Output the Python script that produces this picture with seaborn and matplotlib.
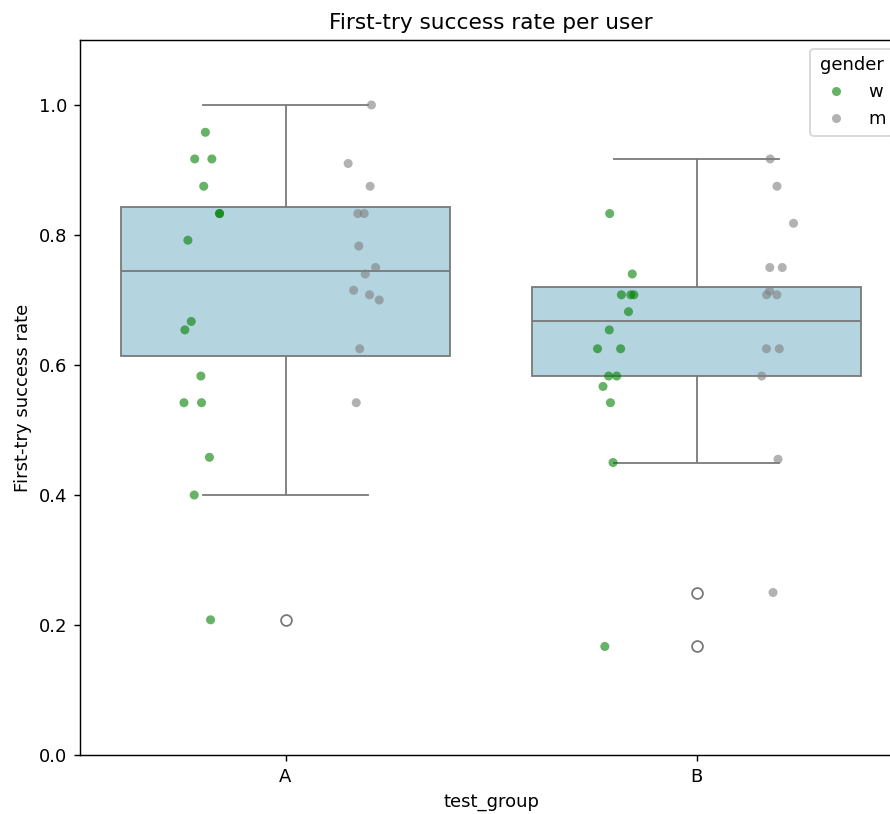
import numpy as np
import pandas as pd
import matplotlib
matplotlib.use("Agg")
import matplotlib.pyplot as plt
import seaborn as sns

# DATA
A_W = [0.958, 0.917, 0.917, 0.875, 0.833, 0.833, 0.792, 0.667, 0.654,
       0.583, 0.542, 0.542, 0.458, 0.400, 0.208]
A_M = [1.000, 0.910, 0.875, 0.833, 0.833, 0.783, 0.750, 0.740, 0.715,
       0.708, 0.700, 0.625, 0.542]
B_W = [0.833, 0.740, 0.708, 0.708, 0.708, 0.682, 0.654, 0.625, 0.625,
       0.583, 0.583, 0.567, 0.542, 0.450, 0.167]
B_M = [0.917, 0.875, 0.818, 0.750, 0.750, 0.714, 0.708, 0.708, 0.625,
       0.625, 0.583, 0.455, 0.250]

GROUPS = ["A", "B"]
GENDERS = ["w", "m"]
PALETTE = {"w": "green", "m": "gray"}

DPI = 130


def build_frame():
    rows = []
    for group, by_gender in (("A", {"w": A_W, "m": A_M}), ("B", {"w": B_W, "m": B_M})):
        for gender, values in by_gender.items():
            for v in values:
                rows.append({"test_group": group, "gender": gender, "success_rate": v})
    return pd.DataFrame(rows)


def make_plot(df):
    np.random.seed(3)
    fig = plt.figure(figsize=(890 / DPI, 814 / DPI), dpi=DPI)
    # axes run a little past the right edge, as in the reference (cropped)
    ax = fig.add_axes([80 / 890, 59 / 814, 822 / 890, 715 / 814])

    sns.boxplot(data=df, x="test_group", y="success_rate", order=GROUPS,
                color="lightblue", ax=ax)
    sns.stripplot(data=df, x="test_group", y="success_rate", order=GROUPS,
                  hue="gender", hue_order=GENDERS, palette=PALETTE,
                  dodge=True, jitter=True, alpha=0.6, ax=ax)

    ax.set_ylim(0, 1.1)
    ax.set_title("First-try success rate per user")
    ax.set_xlabel("test_group")
    ax.set_ylabel("First-try success rate")
    ax.spines["right"].set_visible(False)  # lies outside the cropped frame
    sns.move_legend(ax, "upper right", title="gender")

    fig.savefig("out.png", dpi=DPI)


if __name__ == "__main__":
    make_plot(build_frame())
